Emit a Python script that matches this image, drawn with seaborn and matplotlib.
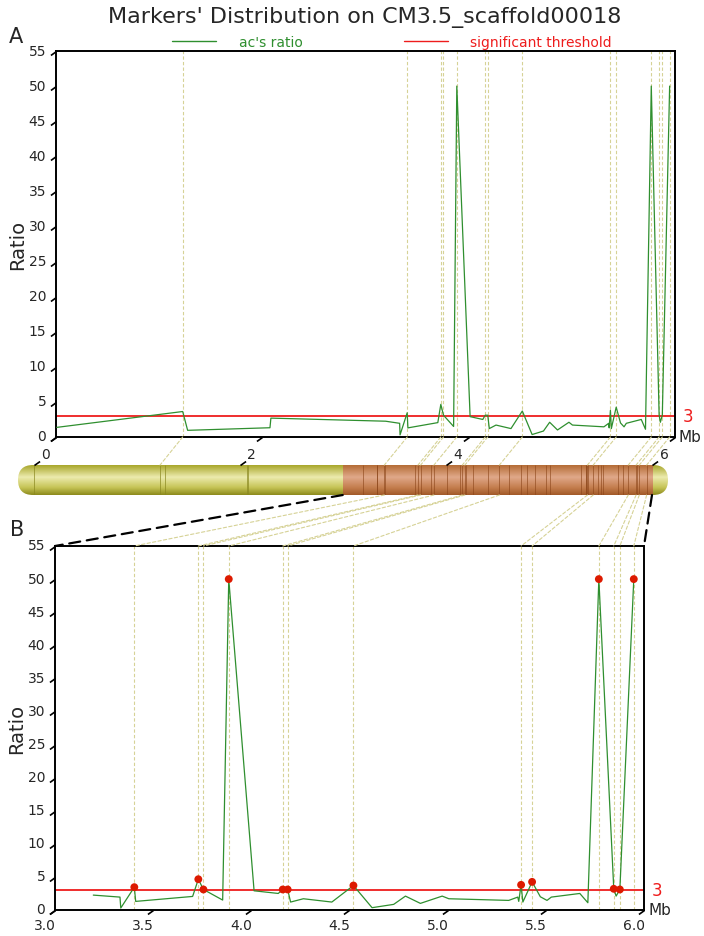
import matplotlib
matplotlib.use("Agg")
import matplotlib.pyplot as plt
import numpy as np
import pandas as pd
import seaborn as sns
from matplotlib.colors import LinearSegmentedColormap
from matplotlib.lines import Line2D
from matplotlib.patches import ConnectionPatch, FancyBboxPatch
from matplotlib.path import Path
from matplotlib.transforms import ScaledTranslation

# marker positions (Mb) and ac's ratio
position_mb = [0.007, 1.228, 1.276, 2.074, 2.083, 3.195, 3.331, 3.335, 3.404, 3.411,
               3.701, 3.730, 3.756, 3.854, 3.885, 4.014, 4.137, 4.160, 4.185, 4.200,
               4.265, 4.410, 4.520, 4.615, 4.725, 4.785, 4.861, 4.972, 5.006, 5.311,
               5.357, 5.362, 5.374, 5.383, 5.430, 5.472, 5.506, 5.528, 5.673, 5.714,
               5.770, 5.846, 5.858, 5.877, 5.948]
ratio = [1.37, 3.63, 0.95, 1.32, 2.69, 2.25, 1.95, 0.30, 3.45, 1.30,
         2.05, 4.65, 3.10, 1.50, 50.0, 2.90, 2.50, 3.10, 3.10, 1.20,
         1.70, 1.20, 3.70, 0.35, 0.85, 2.10, 1.00, 2.10, 1.70, 1.45,
         1.95, 1.30, 3.80, 1.20, 4.25, 2.00, 1.45, 1.95, 2.50, 1.10,
         50.0, 3.20, 2.10, 3.10, 50.0]
threshold = 3
scaffold_mb = 6.0
zoom_start, zoom_end = 3.0, 6.0
y_ticks = list(range(0, 60, 5))
a_xticks = [0, 2, 4, 6]
b_xticks = [3.0, 3.5, 4.0, 4.5, 5.0, 5.5, 6.0]
b_xlabels = ["3.0", "3.5", "4.0", "4.5", "5.0", "5.5", "6.0"]

df = pd.DataFrame({"pos": position_mb, "ratio": ratio})
sig = df[df["ratio"] >= threshold]
zoom_df = df[(df["pos"] >= zoom_start) & (df["pos"] <= zoom_end)]
sig_zoom = sig[sig["pos"] >= zoom_start]

GREEN = "#2f8f2f"
RED = "#ee1c1c"
DOT = "#dd1a00"
GUIDE = "#d6d296"

sns.set_theme(style="white")
plt.rcParams["font.family"] = ["DejaVu Sans"]

W, H = 704, 937
fig = plt.figure(figsize=(W / 100, H / 100), dpi=100)


def rect(l, t, r, b):
    return [l / W, 1 - b / H, (r - l) / W, (b - t) / H]


def px(dx, dy):
    return ScaledTranslation(dx / 100, dy / 100, fig.dpi_scale_trans)


axA = fig.add_axes(rect(56, 52, 675, 438))
axB = fig.add_axes(rect(55, 547, 644, 911))
axC = fig.add_axes(rect(18, 466, 668, 496))

slash_down = Path([(0, 0), (-1.4, -1)])
slash_up = Path([(0, 0), (1.4, 1)])


def draw_panel(ax, data, dots, xlim, xticks, xlabels, label_shift, label_pad):
    ax.vlines(dots["pos"], 0, 55, colors=GUIDE, linestyles=(0, (3, 2)), lw=0.8, zorder=1)
    ax.axhline(threshold, color=RED, lw=1.3, zorder=2)
    sns.lineplot(data=data, x="pos", y="ratio", ax=ax, color=GREEN, lw=0.9,
                 sort=False, estimator=None, zorder=3)
    ax.set_xlim(*xlim)
    ax.set_ylim(0, 55)
    ax.set_xlabel("")
    ax.set_ylabel("Ratio", fontsize=14, labelpad=1)
    ax.set_yticks(y_ticks)
    ax.set_xticks(xticks, xlabels)
    ax.tick_params(axis="x", length=0, labelsize=10, pad=label_pad)
    ax.tick_params(axis="y", length=0, labelsize=10, pad=7)
    for s in ax.spines.values():
        s.set_color("black")
        s.set_linewidth(1.4)
    # slanted tick marks
    ax.plot(xticks, [0] * len(xticks), transform=ax.get_xaxis_transform(), ls="none",
            marker=slash_down, ms=8, mec="black", mew=1.2, clip_on=False)
    ax.plot([0] * len(y_ticks), y_ticks, transform=ax.get_yaxis_transform(), ls="none",
            marker=slash_down, ms=8, mec="black", mew=1.2, clip_on=False)
    for lab in ax.get_xticklabels():
        lab.set_transform(lab.get_transform() + px(label_shift, 0))
    for lab in ax.get_yticklabels():
        lab.set_transform(lab.get_transform() + px(0, 2))
    ax.text(1, threshold, "3", transform=ax.get_yaxis_transform() + px(8, 0),
            color=RED, fontsize=12, ha="left", va="center")
    ax.text(1, 0, "Mb", transform=ax.transAxes + px(4, 0),
            fontsize=11, ha="left", va="center")


draw_panel(axA, df, sig, (0, scaffold_mb), a_xticks, [str(t) for t in a_xticks], -11, 7)
draw_panel(axB, zoom_df, sig_zoom, (zoom_start, zoom_end), b_xticks, b_xlabels, -10, 5.5)
sns.scatterplot(data=sig_zoom, x="pos", y="ratio", ax=axB, color=DOT, s=32,
                edgecolor="none", zorder=5, clip_on=False)
axB.set_xlabel("")
axB.set_ylabel("Ratio", fontsize=14, labelpad=1)

# chromosome bar
scale = (652 - 33.5) / scaffold_mb
x_lo = (18 - 33.5) / scale
x_hi = scaffold_mb + (668 - 652) / scale
axC.set_xlim(x_lo, x_hi)
axC.set_ylim(0, 1)
axC.axis("off")
r_mb = 15 / scale
capsule = FancyBboxPatch((x_lo, 0), x_hi - x_lo, 1, boxstyle=f"round,pad=0,rounding_size={r_mb}",
                         mutation_aspect=0.5 / r_mb, fc="none", ec="none")
axC.add_patch(capsule)
grad = np.linspace(0, 1, 128).reshape(-1, 1)
yellow = LinearSegmentedColormap.from_list(
    "olive", [(0, "#a8a62a"), (0.4, "#ecebae"), (0.75, "#c6c456"), (1, "#8c8a1c")])
brown = LinearSegmentedColormap.from_list(
    "brown", [(0, "#b46c36"), (0.4, "#e0a88a"), (0.75, "#c47e4e"), (1, "#a25a28")])
im1 = axC.imshow(grad, cmap=yellow, aspect="auto", extent=[x_lo, x_hi, 0, 1])
im2 = axC.imshow(grad, cmap=brown, aspect="auto", extent=[zoom_start, zoom_end, 0, 1])
im1.set_clip_path(capsule)
im2.set_clip_path(capsule)
outside = df[df["pos"] < zoom_start]["pos"]
inside = df[df["pos"] >= zoom_start]["pos"]
axC.vlines(outside, 0, 1, colors="#8a8820", lw=0.7, alpha=0.7)
axC.vlines(inside, 0, 1, colors="#8a4418", lw=0.7, alpha=0.6)
axC.plot(a_xticks, [1] * len(a_xticks), ls="none", marker=slash_up, ms=8,
         mec="black", mew=1.2, clip_on=False)
axC.set_xlim(x_lo, x_hi)
axC.set_ylim(0, 1)

# connectors A -> bar -> B
for p in sig["pos"]:
    fig.add_artist(ConnectionPatch(xyA=(p, 0), coordsA=axA.transData, xyB=(p, 1),
                                   coordsB=axC.transData, color=GUIDE, lw=0.8,
                                   ls=(0, (3, 2))))
for p in sig_zoom["pos"]:
    fig.add_artist(ConnectionPatch(xyA=(p, 0), coordsA=axC.transData, xyB=(p, 55),
                                   coordsB=axB.transData, color=GUIDE, lw=0.8,
                                   ls=(0, (3, 2))))
for p in (zoom_start, zoom_end):
    fig.add_artist(ConnectionPatch(xyA=(p, 0), coordsA=axC.transData, xyB=(p, 55),
                                   coordsB=axB.transData, color="black", lw=1.6,
                                   ls=(0, (5, 3))))

# title, panel letters, legend
fig.text(365 / W, 1 - 17 / H, "Markers' Distribution on CM3.5_scaffold00018",
         ha="center", va="center", fontsize=16)
fig.text(16 / W, 1 - 37 / H, "A", ha="center", va="center", fontsize=15)
fig.text(17 / W, 1 - 530 / H, "B", ha="center", va="center", fontsize=15)
handles = [Line2D([], [], color=GREEN, lw=1), Line2D([], [], color=RED, lw=1)]
fig.legend(handles, ["ac's ratio", "significant threshold"], loc="center",
           bbox_to_anchor=(392 / W, 1 - 43 / H), ncol=2, frameon=False, fontsize=10,
           handlelength=3.2, handletextpad=1.6, columnspacing=7.3, labelcolor=[GREEN, RED])

fig.savefig("out.png", dpi=100)
